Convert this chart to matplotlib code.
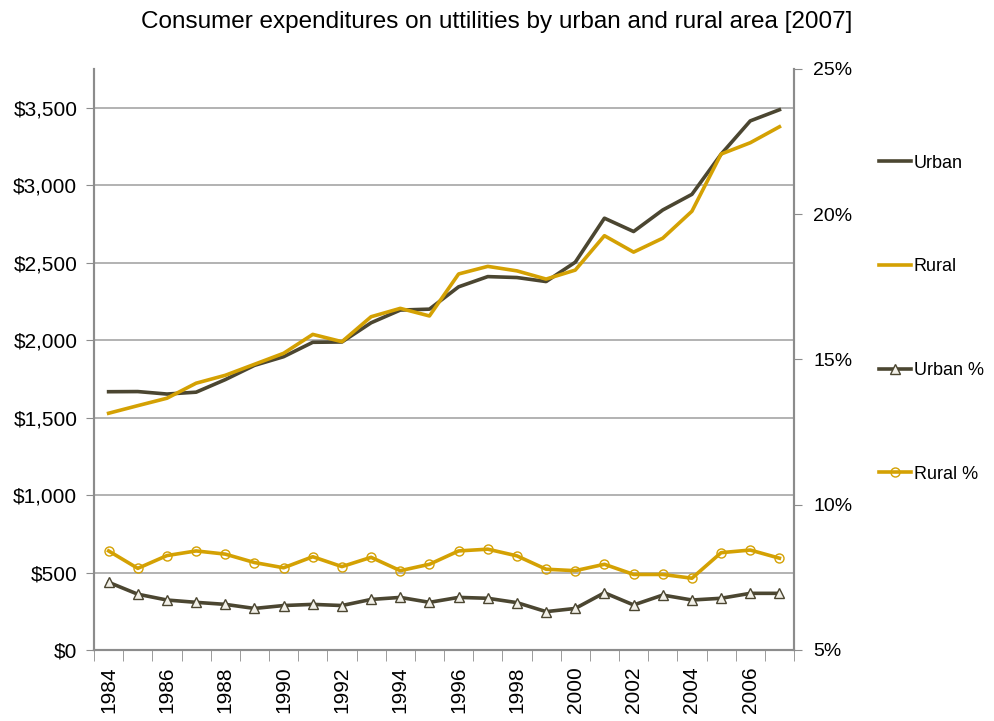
import matplotlib
matplotlib.use("Agg")
import matplotlib.pyplot as plt
from matplotlib.ticker import FuncFormatter, MultipleLocator, FixedLocator

years = list(range(1984, 2008))

urban = [1667, 1668, 1652, 1664, 1745, 1837, 1893, 1986, 1988, 2112, 2194, 2200,
         2344, 2410, 2404, 2378, 2503, 2787, 2701, 2840, 2941, 3200, 3415, 3487]
rural = [1528, 1577, 1625, 1722, 1773, 1844, 1915, 2037, 1990, 2151, 2205, 2156,
         2427, 2476, 2447, 2394, 2452, 2674, 2568, 2658, 2832, 3201, 3274, 3377]
urban_pct = [7.33, 6.92, 6.72, 6.64, 6.57, 6.43, 6.53, 6.57, 6.53, 6.74, 6.81, 6.64,
             6.81, 6.78, 6.63, 6.32, 6.43, 6.97, 6.55, 6.89, 6.72, 6.78, 6.95, 6.95]
rural_pct = [8.41, 7.81, 8.25, 8.41, 8.30, 8.01, 7.83, 8.21, 7.87, 8.19, 7.73, 7.95,
             8.41, 8.47, 8.24, 7.78, 7.73, 7.95, 7.60, 7.60, 7.47, 8.35, 8.44, 8.16]

title = "Consumer expenditures on uttilities by urban and rural area [2007]"

DARK = "#4b4631"
GOLD = "#d4a103"
AXIS = "#8c8c8c"

plt.rcParams['font.family'] = ['Liberation Sans', 'DejaVu Sans']

fig = plt.figure(figsize=(9.94, 7.21), dpi=100)
ax = fig.add_axes([0.0946, 0.0985, 0.7042, 0.8058])
ax2 = ax.twinx()

x = list(range(len(years)))
l1, = ax.plot(x, urban, color=DARK, lw=2.6, label="Urban")
l2, = ax.plot(x, rural, color=GOLD, lw=2.6, label="Rural")
l3, = ax2.plot(x, urban_pct, color=DARK, lw=2.6, marker='^', markersize=6.5,
               markerfacecolor='#f2f0e8', markeredgecolor=DARK, markeredgewidth=1.0,
               label="Urban %")
l4, = ax2.plot(x, rural_pct, color=GOLD, lw=2.6, marker='o', markersize=6.5,
               markerfacecolor='none', markeredgecolor=GOLD, markeredgewidth=1.0,
               label="Rural %")

ax.set_xlim(-0.5, len(years) - 0.5)
ax.set_ylim(0, 3750)
ax2.set_ylim(5, 25)

ax.yaxis.set_major_locator(FixedLocator(range(0, 3501, 500)))
ax.yaxis.set_major_formatter(FuncFormatter(lambda v, p: "${:,.0f}".format(v)))
ax2.yaxis.set_major_locator(MultipleLocator(5))
ax2.yaxis.set_major_formatter(FuncFormatter(lambda v, p: "{:.0f}%".format(v)))

ax.set_xticks(x[::2])
ax.set_xticklabels([str(y) for y in years[::2]], rotation=90)
ax.set_xticks([i - 0.5 for i in range(len(years) + 1)], minor=True)
ax.tick_params(axis='x', which='major', length=0, pad=12, labelsize=15)
ax.tick_params(axis='x', which='minor', length=8, color=AXIS, direction='out')
ax.tick_params(axis='y', length=6, color=AXIS, labelsize=15, pad=6)
ax2.tick_params(axis='y', length=6, color=AXIS, labelsize=14, pad=8)

ax.grid(axis='y', color='#a6a6a6', lw=1.2)
ax.set_axisbelow(True)

for a in (ax, ax2):
    a.spines['top'].set_visible(False)
    for s in ('left', 'right', 'bottom'):
        a.spines[s].set_color(AXIS)
        a.spines[s].set_linewidth(1.5)

fig.suptitle(title, y=0.985, fontsize=17.5)

fig.legend(handles=[l1, l2, l3, l4], loc='upper left', bbox_to_anchor=(0.875, 0.798),
           frameon=False, prop={'size': 13},
           handlelength=1.8, handletextpad=0.15, labelspacing=4.8, borderpad=0)

fig.savefig("out.png", dpi=100)
